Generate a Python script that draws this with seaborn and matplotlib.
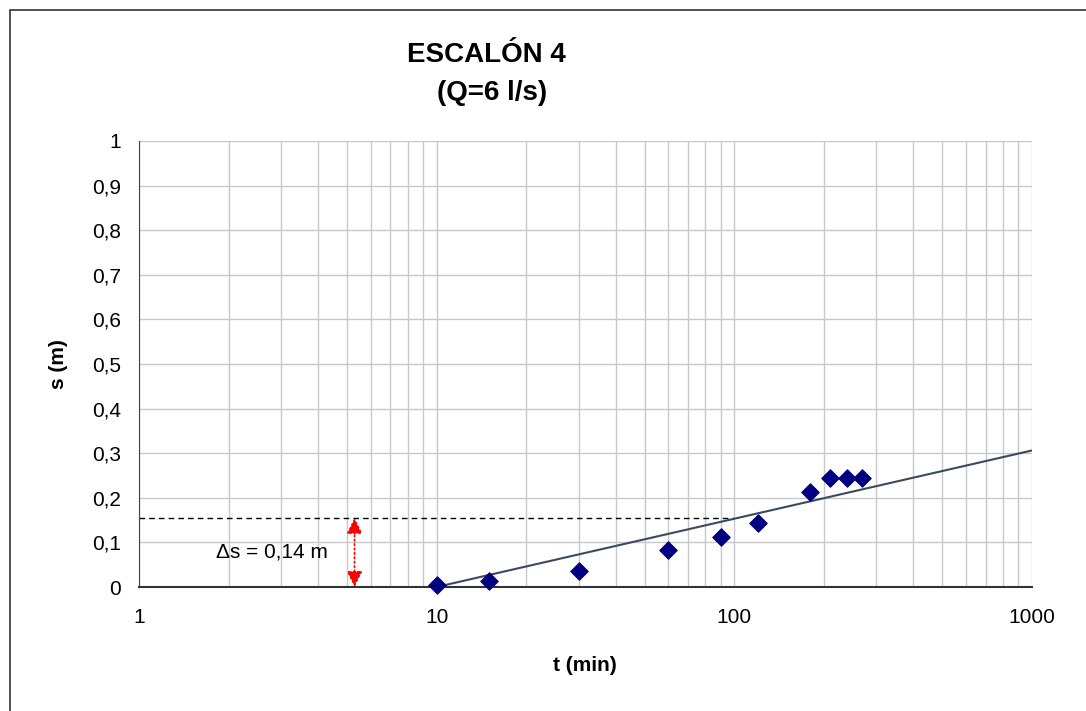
import numpy as np
import pandas as pd
import seaborn as sns
import matplotlib.pyplot as plt
from matplotlib.patches import Rectangle
from matplotlib.ticker import FixedLocator, FuncFormatter, NullFormatter

# =====================
# Data
# =====================
t_min = [10, 15, 30, 60, 90, 120, 180, 210, 240, 270]
s_m = [0.005, 0.013, 0.036, 0.084, 0.113, 0.144, 0.214, 0.244, 0.244, 0.244]

# straight-line fit (semi-log): s = slope * log10(t / t0)
fit_t0 = 10
fit_slope = 0.153
fit_t = [10, 1000]

ds_level = 0.155
ds_t_end = 100
arrow_t = 5.3
ds_label = "Δs = 0,14 m"

df = pd.DataFrame({"t": t_min, "s": s_m})
fit_df = pd.DataFrame({"t": fit_t})
fit_df["s"] = fit_slope * np.log10(fit_df["t"] / fit_t0)


def comma_fmt(v, pos):
    if abs(v) < 1e-9 or abs(v - 1) < 1e-9:
        return f"{v:.0f}"
    return f"{v:.1f}".replace(".", ",")


# =====================
# Plot
# =====================
sns.set_style("white")
plt.rcParams["font.family"] = ["Liberation Sans", "DejaVu Sans"]
plt.rcParams["text.color"] = "black"
plt.rcParams["axes.labelcolor"] = "black"

fig = plt.figure(figsize=(10.86, 7.11), dpi=100)
ax = fig.add_axes([0.128, 0.1744, 0.822, 0.6273])

# frame around the chart area
fig.patches.append(Rectangle((10 / 1086, -0.1), 1.2, 1 - 10 / 711 + 0.1,
                             transform=fig.transFigure, fill=False,
                             edgecolor="#333333", lw=1.2))

ax.set_xscale("log")
ax.set_xlim(1, 1000)
ax.set_ylim(0, 1)

# grid
ax.xaxis.set_minor_locator(FixedLocator(
    [m * 10 ** e for e in range(0, 3) for m in range(2, 10)]))
ax.xaxis.set_minor_formatter(NullFormatter())
ax.xaxis.set_major_formatter(FuncFormatter(lambda v, p: f"{v:g}"))
ax.set_yticks(np.arange(0, 1.01, 0.1))
ax.yaxis.set_major_formatter(FuncFormatter(comma_fmt))
ax.grid(True, which="both", axis="x", color="#c8c8c8", lw=1)
ax.grid(True, which="major", axis="y", color="#c8c8c8", lw=1)

for side in ["top", "right"]:
    ax.spines[side].set_visible(False)
ax.spines["left"].set_color("#444444")
ax.spines["bottom"].set_color("#333333")
ax.spines["bottom"].set_linewidth(1.5)

ax.tick_params(axis="both", which="major", direction="out", length=7,
               labelsize=15, colors="black", width=1.2)
ax.tick_params(axis="x", which="minor", length=0)
ax.tick_params(axis="x", pad=8)
ax.tick_params(axis="y", pad=6)

# dashed reference level and arrow
ax.plot([1, ds_t_end], [ds_level, ds_level], color="black", ls=(0, (4, 3)), lw=1)
ax.annotate("", xy=(arrow_t, ds_level), xytext=(arrow_t, 0),
            arrowprops=dict(arrowstyle="<|-|>", color="red", lw=1.2,
                            ls=":", mutation_scale=24, shrinkA=0, shrinkB=0))
ax.text(2.8, ds_level / 2, ds_label, fontsize=15, ha="center", va="center",
        color="black")

sns.lineplot(data=fit_df, x="t", y="s", ax=ax, color="#3b4a5e", lw=1.5)
sns.scatterplot(data=df, x="t", y="s", ax=ax, marker="D", s=80,
                color="#000080", edgecolor="#000080", zorder=5, clip_on=False)

ax.set_xlabel("t (min)", fontsize=15, fontweight="bold", labelpad=21)
ax.set_ylabel("s (m)", fontsize=15, fontweight="bold", labelpad=17)

fig.text(486 / 1086, 1 - 55 / 711, "ESCALÓN 4", fontsize=20,
         fontweight="bold", ha="center", va="center")
fig.text(492 / 1086, 1 - 93 / 711, "(Q=6 l/s)", fontsize=20,
         fontweight="bold", ha="center", va="center")

fig.savefig("out.png", dpi=100)
